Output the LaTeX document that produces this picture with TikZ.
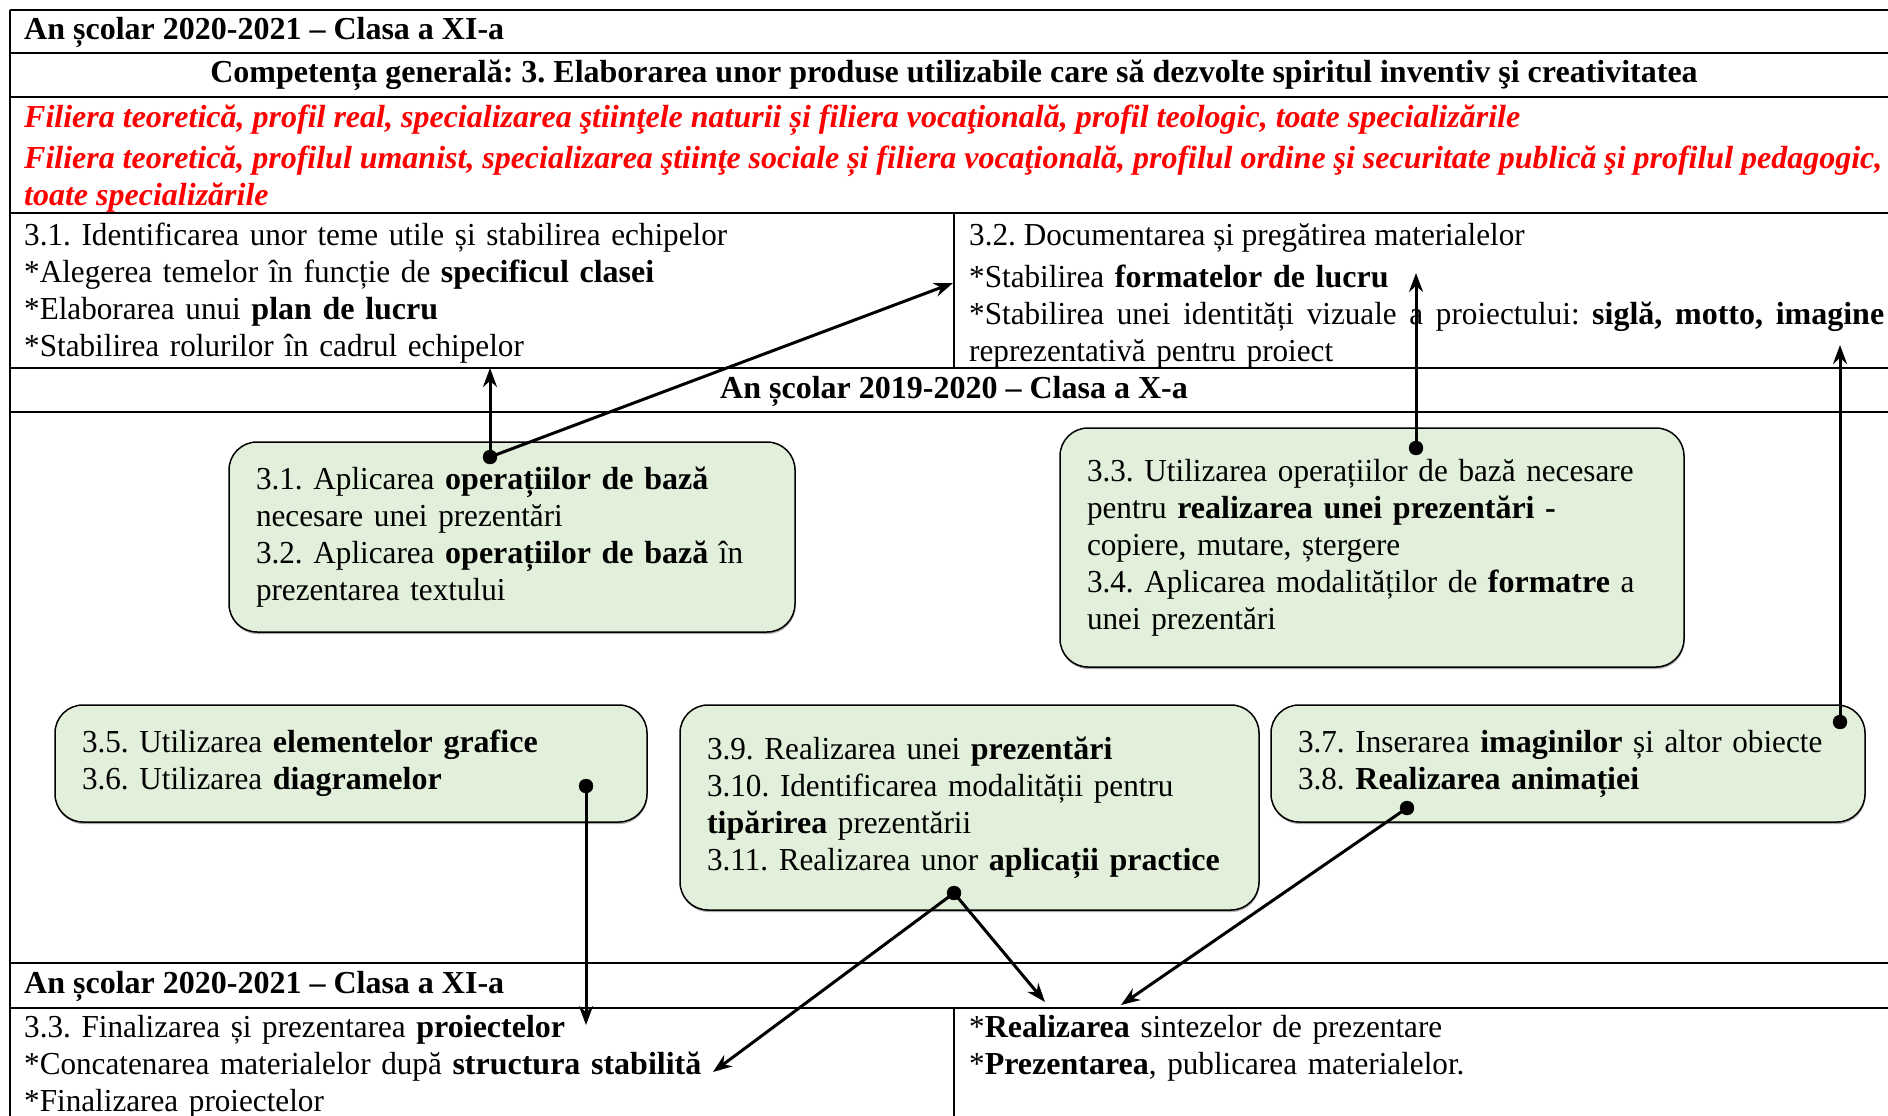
\documentclass[tikz,border=0pt]{standalone}
\usepackage{fontspec}
\setmainfont{Liberation Serif}[UprightFeatures={FakeStretch=0.974}]
\usepackage{tikz}
\usetikzlibrary{%
	calc,%
	arrows.meta,%
	shadows
}
\definecolor{box-green}{rgb}{0.886, 0.937, 0.855}
\definecolor{filiera-red}{rgb}{1, 0, 0}
\frenchspacing

\begin{document}
\begin{tikzpicture}[x=1pt, y=-1pt,
		txt/.style={font=\fontsize{32}{37}\selectfont, inner sep=0, anchor=base west},
		cell/.style={txt, align=left, text width=#1},
		greenbox/.style={draw, line width=1.5pt, fill=box-green, rounded corners=28pt,
			inner xsep=27pt, inner ysep=0, align=left, font=\fontsize{32}{37}\selectfont,
			drop shadow={shadow xshift=0.5pt, shadow yshift=-2pt, fill=black!55, opacity=0.6}},
		rule/.style={line width=2pt},
		link/.style={line width=3pt, -{Stealth[length=19pt, width=14pt]}}
	]
		\useasboundingbox (0,0) rectangle (1888,1116);
		
		\draw[rule] (10,10) -- (1888,10);
		\draw[rule] (10,53) -- (1888,53);
		\draw[rule] (10,97) -- (1888,97);
		\draw[rule] (10,213) -- (1888,213);
		\draw[rule] (10,368) -- (1888,368);
		\draw[rule] (10,412) -- (1888,412);
		\draw[rule] (10,963) -- (1888,963);
		\draw[rule] (10,1008) -- (1888,1008);
		\draw[rule] (10,10) -- (10,1116);
		\draw[rule] (954,213) -- (954,368);
		\draw[rule] (954,1008) -- (954,1116);
		
		\node[txt, font=\fontsize{32}{37}\selectfont\bfseries] (an2021) at (24,40) {An școlar 2020-2021 – Clasa a XI-a};
		\node[txt, anchor=base, font=\fontsize{32}{37}\selectfont\bfseries] (competenta) at (954,83) {Competența generală: 3. Elaborarea unor produse utilizabile care să dezvolte spiritul inventiv şi creativitatea};
		\node[txt, text=filiera-red, font=\fontsize{32}{37}\selectfont\bfseries\itshape] (filiera1) at (24,128) {Filiera teoretică, profil real, specializarea ştiinţele naturii și filiera vocaţională, profil teologic, toate specializările};
		\node[txt, text=filiera-red, font=\fontsize{32}{37}\selectfont\bfseries\itshape] (filiera2) at (24,168) {\makebox[1858pt][s]{Filiera teoretică, profilul umanist, specializarea ştiinţe sociale și filiera vocaţională, profilul ordine şi securitate publică şi profilul pedagogic,}};
		\node[txt, text=filiera-red, font=\fontsize{32}{37}\selectfont\bfseries\itshape] (filiera3) at (24,205) {toate specializările};
		
		\node[cell=920pt] (cell31) at (24,245) {3.1. Identificarea unor teme utile și stabilirea echipelor\\{}*Alegerea temelor în funcție de \textbf{specificul clasei}\\{}*Elaborarea unui \textbf{plan de lucru}\\{}*Stabilirea rolurilor în cadrul echipelor};
		\node[txt] (cell32) at (969,245) {3.2. Documentarea și pregătirea materialelor};
		\node[cell=915pt] (cell32b) at (969,287) {*Stabilirea \textbf{formatelor de lucru}\\{}\makebox[915pt][s]{\spaceskip=7.8pt plus 20pt minus 2pt *Stabilirea unei identități vizuale a proiectului: \textbf{siglă, motto, imagine}}\\{}reprezentativă pentru proiect};
		
		\node[txt, anchor=base, font=\fontsize{32}{37}\selectfont\bfseries] (an2020) at (954,398) {An școlar 2019-2020 – Clasa a X-a};
		
		\node[greenbox, minimum width=566pt, minimum height=190pt, text width=512pt] (op31) at (512,537) {3.1. Aplicarea \textbf{operațiilor de bază}\\ necesare unei prezentări\\ 3.2. Aplicarea \textbf{operațiilor de bază} în\\ prezentarea textului};
		\node[greenbox, minimum width=624pt, minimum height=239pt, text width=570pt] (op33) at (1372,547.5) {3.3. Utilizarea operațiilor de bază necesare\\ pentru \textbf{realizarea unei prezentări -}\\ copiere, mutare, ștergere\\ 3.4. Aplicarea modalităților de \textbf{formatre} a\\ unei prezentări};
		\node[greenbox, minimum width=592pt, minimum height=117pt, text width=538pt] (op35) at (351,763.5) {3.5. Utilizarea \textbf{elementelor grafice}\\ 3.6. Utilizarea \textbf{diagramelor}};
		\node[greenbox, minimum width=579pt, minimum height=205pt, text width=525pt] (op39) at (969.5,807.5) {3.9. Realizarea unei \textbf{prezentări}\\ 3.10. Identificarea modalității pentru\\ \textbf{tipărirea} prezentării\\ 3.11. Realizarea unor \textbf{aplicații practice}};
		\node[greenbox, minimum width=594pt, minimum height=117pt, text width=540pt] (op37) at (1568,763.5) {3.7. Inserarea \textbf{imaginilor} și altor obiecte\\ 3.8. \textbf{Realizarea animației}};
		
		\node[txt, font=\fontsize{32}{37}\selectfont\bfseries] (an2021b) at (24,993) {An școlar 2020-2021 – Clasa a XI-a};
		\node[cell=920pt] (cell33) at (24,1037) {3.3. Finalizarea și prezentarea \textbf{proiectelor}\\{}*Concatenarea materialelor după \textbf{structura stabilită}\\{}*Finalizarea proiectelor};
		\node[cell=915pt] (cell33b) at (969,1037) {*\textbf{Realizarea} sintezelor de prezentare\\{}*\textbf{Prezentarea}, publicarea materialelor.};
		
		\coordinate (d31) at (490,457);
		\coordinate (d33) at (1416,448);
		\coordinate (d36) at (586,786);
		\coordinate (d37) at (1840,722);
		\coordinate (d38) at (1407,808);
		\coordinate (d311) at (954,893);
		\coordinate (t31a) at (490,368);
		\coordinate (t31b) at (953,283);
		\coordinate (t33) at (1416,273);
		\coordinate (t36) at (586,1025);
		\coordinate (t37) at (1840,345);
		\coordinate (t38) at (1121,1005);
		\coordinate (t311a) at (713,1072);
		\coordinate (t311b) at (1045,1002);
		
		\draw[link] (d31) -- (t31a);
		\draw[link] (d31) -- (t31b);
		\draw[link] (d33) -- (t33);
		\draw[link] (d36) -- (t36);
		\draw[link] (d37) -- (t37);
		\draw[link] (d38) -- (t38);
		\draw[link] (d311) -- (t311a);
		\draw[link] (d311) -- (t311b);
		
		\filldraw (d31) circle (7pt);
		\filldraw (d33) circle (7pt);
		\filldraw (d36) circle (7pt);
		\filldraw (d37) circle (7pt);
		\filldraw (d38) circle (7pt);
		\filldraw (d311) circle (7pt);

	\end{tikzpicture}
\end{document}
